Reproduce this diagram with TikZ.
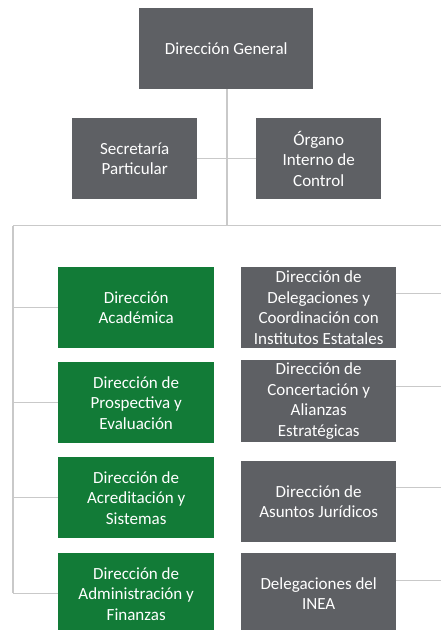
\documentclass[tikz,border=0pt]{standalone}
\usepackage{fontspec}
\setmainfont{Carlito}
\definecolor{boxgray}{HTML}{5E6064}
\definecolor{boxgreen}{HTML}{127B37}
\definecolor{linegray}{HTML}{C9C9C9}
\begin{document}
\begin{tikzpicture}[x=1pt,y=-1pt,
  box/.style={draw=none,text=white,align=center,font=\fontsize{17}{20.5}\selectfont,inner sep=0pt,anchor=north west},
  graybox/.style={box,fill=boxgray},
  greenbox/.style={box,fill=boxgreen},
  conn/.style={draw=linegray,line width=1.4pt}]
\useasboundingbox (0,0) rectangle (441,630);
\node[graybox,minimum width=174pt,minimum height=81pt] (dg) at (139,8) {Dirección General};
\node[graybox,minimum width=125pt,minimum height=81pt] (sp) at (72,118) {Secretaría\\Particular};
\node[graybox,minimum width=125pt,minimum height=81pt] (oic) at (256,118) {Órgano\\Interno de\\Control};
\node[greenbox,minimum width=156pt,minimum height=81pt] (g1) at (58,267) {Dirección\\Académica};
\node[greenbox,minimum width=156pt,minimum height=81pt] (g2) at (58,362) {Dirección de\\Prospectiva y\\Evaluación};
\node[greenbox,minimum width=156pt,minimum height=81pt] (g3) at (58,457) {Dirección de\\Acreditación y\\Sistemas};
\node[greenbox,minimum width=156pt,minimum height=81pt] (g4) at (58,553) {Dirección de\\Administración y\\Finanzas};
\node[graybox,minimum width=155pt,minimum height=81pt] (r1) at (241,267) {Dirección de\\Delegaciones y\\Coordinación con\\Institutos Estatales};
\node[graybox,minimum width=155pt,minimum height=82pt] (r2) at (241,360) {Dirección de\\Concertación y\\Alianzas\\Estratégicas};
\node[graybox,minimum width=155pt,minimum height=81pt] (r3) at (241,461) {Dirección de\\Asuntos Jurídicos};
\node[graybox,minimum width=155pt,minimum height=81pt] (r4) at (241,553) {Delegaciones del\\INEA};
\coordinate (hub) at (227,225.5);
\coordinate (lt) at (13,225.5);
\coordinate (rt) at (441,225.5);
\coordinate (lb) at (13,593);
\draw[conn] (dg.south -| hub) -- (hub);
\draw[conn] (sp.east) -- (oic.west);
\draw[conn] (lt) -- (rt);
\draw[conn] (lt) -- (lb);
\draw[conn] (g1.west -| lt) -- (g1.west);
\draw[conn] (g2.west -| lt) -- (g2.west);
\draw[conn] (g3.west -| lt) -- (g3.west);
\draw[conn] (g4.west -| lt) -- (g4.west);
\draw[conn] (r1.east) ++(0,-14) coordinate (r1e) -- (r1e -| rt);
\draw[conn] (r2.east) ++(0,-15) coordinate (r2e) -- (r2e -| rt);
\draw[conn] (r3.east) ++(0,-14) coordinate (r3e) -- (r3e -| rt);
\draw[conn] (r4.east) ++(0,-13) coordinate (r4e) -- (r4e -| rt);
\end{tikzpicture}
\end{document}
